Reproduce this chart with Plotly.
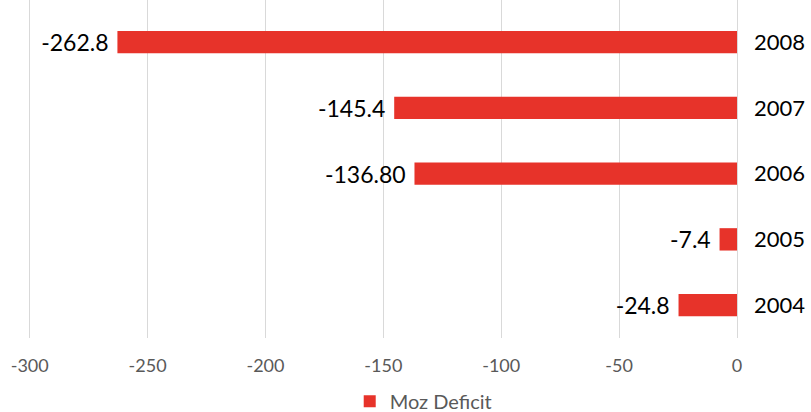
import plotly.graph_objects as go

years = ["2004", "2005", "2006", "2007", "2008"]
deficit = [-24.8, -7.4, -136.8, -145.4, -262.8]
labels = ["-24.8", "-7.4", "-136.80", "-145.4", "-262.8"]
x_ticks = [-300, -250, -200, -150, -100, -50, 0]
x_tick_text = ["-300", "-250", "-200", "-150", "-100", "-50", "0"]

fig = go.Figure()
fig.add_trace(go.Bar(
    y=years, x=deficit, orientation="h", name="Moz Deficit",
    marker=dict(color="#E7332A", line=dict(width=0)),
    text=[l + " " for l in labels], textposition="outside", constraintext="none",
    textfont=dict(size=23, color="#000000", family="Lato, Open Sans, sans-serif"),
    cliponaxis=False, width=0.34,
))
fig.update_layout(
    width=811, height=412,
    margin=dict(l=25, r=74, t=0, b=74, autoexpand=False),
    paper_bgcolor="white", plot_bgcolor="white",
    font=dict(family="Lato, Open Sans, sans-serif"),
    showlegend=True,
    legend=dict(orientation="h", x=0.56, xanchor="center", yref="container",
                y=0.026, yanchor="middle",
                font=dict(size=20, color="#595959")),
    xaxis=dict(range=[-302, 0], tickvals=x_ticks, ticktext=x_tick_text,
               showgrid=True, gridcolor="#D9D9D9", automargin=False,
               zeroline=True, zerolinecolor="#D9D9D9", zerolinewidth=1,
               tickfont=dict(size=18, color="#595959"), ticks="", ticklabelstandoff=15,
               showline=False, fixedrange=True),
    yaxis=dict(side="right", type="category", range=[-0.5, 4.64], automargin=False,
               tickfont=dict(size=22, color="#000000"), ticks="", ticklabelstandoff=16,
               showgrid=False, showline=False),
)
fig.write_html("out.html", config={"displayModeBar": False},
               post_script="document.body.style.margin='0';")
